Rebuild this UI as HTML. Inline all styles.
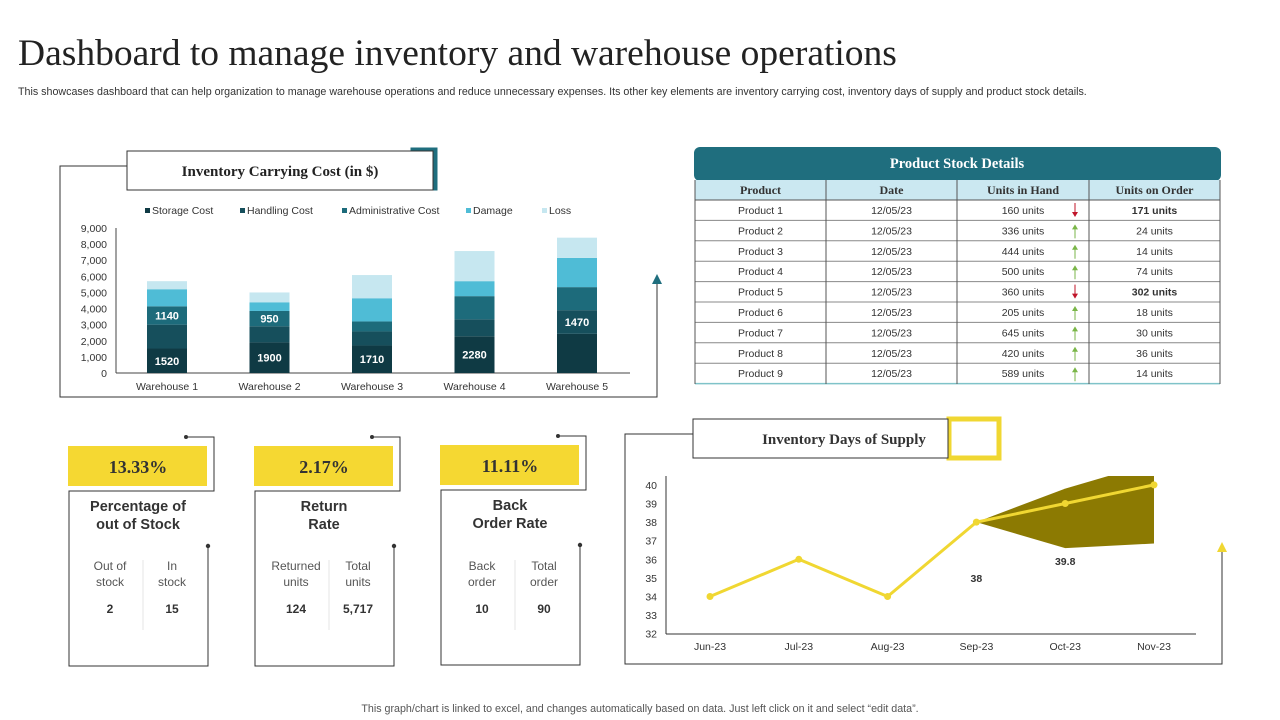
<!DOCTYPE html>
<html><head><meta charset="utf-8"><style>
body{margin:0;width:1280px;height:720px;background:#fff;overflow:hidden;font-family:"Liberation Sans",sans-serif}
svg{display:block}
</style></head><body>
<svg id="s" width="1280" height="720" xmlns="http://www.w3.org/2000/svg" font-family="Liberation Sans, sans-serif">
<defs><clipPath id="plotclip"><rect x="666" y="476" width="540" height="160"/></clipPath></defs>
<text x="18" y="65" font-family="Liberation Serif, serif" font-size="37.5" fill="#222">Dashboard to manage inventory and warehouse operations</text>
<text x="18" y="95" font-size="10.7" fill="#333">This showcases dashboard that can help organization to manage  warehouse operations and reduce unnecessary expenses. Its other key elements are inventory carrying cost, inventory days of supply and product stock details.</text>
<text x="640" y="712" text-anchor="middle" font-size="10.7" fill="#555">This graph/chart is linked to excel, and changes automatically based on data. Just left click on it and select “edit data”.</text>

<g>
<polyline points="127,166 60,166 60,397 657,397 657,284" fill="none" stroke="#333" stroke-width="1"/>
<polygon points="652,284 657,274 662,284" fill="#1f6e7e"/>
<rect x="413" y="150" width="22" height="38" fill="none" stroke="#1f6e7e" stroke-width="5"/>
<rect x="127" y="151" width="306" height="39" fill="#fff" stroke="#333"/>
<text x="280" y="176" text-anchor="middle" font-family="Liberation Serif, serif" font-weight="bold" font-size="15" fill="#222">Inventory Carrying  Cost (in $)</text>
<g id="bars"></g>
</g>

<g id="tbl"></g>

<g id="kpis"></g>

<g>
<polyline points="693,434 625,434 625,664 1222,664 1222,552" fill="none" stroke="#333"/>
<polygon points="1217,552 1222,542 1227,552" fill="#f0d732"/>
<rect x="949" y="419" width="50" height="39" fill="none" stroke="#f0d732" stroke-width="5"/>
<rect x="693" y="419" width="255" height="39" fill="#fff" stroke="#333"/>
<text x="844" y="444" text-anchor="middle" font-family="Liberation Serif, serif" font-weight="bold" font-size="15" fill="#333">Inventory  Days of Supply</text>
<g id="line"></g>
</g>
</svg>
<script>
const NS="http://www.w3.org/2000/svg";
function mk(p,t,a,txt){const e=document.createElementNS(NS,t);for(const k in a)e.setAttribute(k,a[k]);if(txt!=null)e.textContent=txt;p.appendChild(e);return e;}

// ---- stacked bar data ----
const warehouses=["Warehouse 1","Warehouse 2","Warehouse 3","Warehouse 4","Warehouse 5"];
const seriesNames=["Storage Cost","Handling Cost","Administrative Cost","Damage","Loss"];
const storage=[1520,1900,1710,2280,2430];
const handling=[1480,1000,870,1050,1470];
const admin=[1140,950,620,1440,1430];
const damage=[1060,540,1440,930,1810];
const loss=[500,610,1440,1870,1260];
const barTicks=[0,1000,2000,3000,4000,5000,6000,7000,8000,9000];
const barLabels=[[true,false,true,false,false],[true,false,true,false,false],[true,false,false,false,false],[true,false,false,false,false],[false,true,false,false,false]];
const colors=["#0f3a44","#164f5c","#1d6b7b","#4fbcd6","#c6e7f0"];
const bg=document.getElementById('bars');
const by=v=>373-v*(145/9000), bx=i=>167+i*102.5;
mk(bg,'line',{x1:116,y1:228,x2:116,y2:373,stroke:'#444'});
mk(bg,'line',{x1:116,y1:373,x2:630,y2:373,stroke:'#444'});
barTicks.forEach(t=>{const e=mk(bg,'text',{x:107,y:by(t)+4,'text-anchor':'end','font-size':10.5,fill:'#333'},t.toLocaleString('en-US'));

});
const ser=[storage,handling,admin,damage,loss];
warehouses.forEach((w,i)=>{let acc=0;ser.forEach((s,j)=>{const v=s[i];
const r=mk(bg,'rect',{x:bx(i)-20,y:by(acc+v),width:40,height:by(acc)-by(acc+v),fill:colors[j]});


if(barLabels[i][j]){const t=mk(bg,'text',{x:bx(i),y:(by(acc)+by(acc+v))/2+4,'text-anchor':'middle','font-size':11,'font-weight':'bold',fill:'#fff'},v);

}
acc+=v;});
const t=mk(bg,'text',{x:bx(i),y:390,'text-anchor':'middle','font-size':10.5,fill:'#333'},w);

});
const lx=[145,240,342,466,542];
seriesNames.forEach((n,j)=>{const g=mk(bg,'g',{});


mk(g,'rect',{x:lx[j],y:208,width:5,height:5,fill:colors[j]});mk(g,'text',{x:lx[j]+7,y:214,'font-size':10.5,fill:'#333'},n);});

// ---- table ----
const products=["Product 1","Product 2","Product 3","Product 4","Product 5","Product 6","Product 7","Product 8","Product 9"];
const unitsInHand=[160,336,444,500,360,205,645,420,589];
const unitsOnOrder=[171,24,14,74,302,18,30,36,14];
const trendUp=[false,true,true,true,false,true,true,true,true];
const tg=document.getElementById('tbl');
mk(tg,'rect',{x:694,y:147,width:527,height:34,rx:6,fill:'#1f6e7e'});
mk(tg,'text',{x:957,y:168,'text-anchor':'middle','font-family':'Liberation Serif, serif','font-weight':'bold','font-size':14.5,fill:'#fff'},'Product  Stock Details');
mk(tg,'rect',{x:695,y:180,width:525,height:20,fill:'#cbe8f1'});
const cx=[695,826,957,1089,1220];
["Product","Date","Units  in Hand","Units  on Order"].forEach((h,i)=>mk(tg,'text',{x:(cx[i]+cx[i+1])/2,y:194,'text-anchor':'middle','font-family':'Liberation Serif, serif','font-weight':'bold','font-size':12,fill:'#333'},h));
products.forEach((p,r)=>{const y=200+r*20.4;
const row=mk(tg,'g',{});


mk(row,'line',{x1:695,y1:y+20.4,x2:1220,y2:y+20.4,stroke:r==8?'#7fc3c9':'#888','stroke-width':r==8?1.5:1});
const vals=[p,"12/05/23",unitsInHand[r]+" units",unitsOnOrder[r]+" units"];
vals.forEach((v,i)=>mk(row,'text',{x:(cx[i]+cx[i+1])/2,y:y+14,'text-anchor':'middle','font-size':10.5,fill:'#333','font-weight':(i==3&&unitsOnOrder[r]>100)?'bold':'normal'},v));
const ax=1075,c=trendUp[r]?'#7ab648':'#c0152a';
if(trendUp[r]){mk(row,'line',{x1:ax,y1:y+5,x2:ax,y2:y+18,stroke:c});mk(row,'polygon',{points:`${ax-3},${y+9} ${ax},${y+4} ${ax+3},${y+9}`,fill:c});}
else{mk(row,'line',{x1:ax,y1:y+3,x2:ax,y2:y+16,stroke:c});mk(row,'polygon',{points:`${ax-3},${y+12} ${ax},${y+17} ${ax+3},${y+12}`,fill:c});}
});
cx.forEach(x=>mk(tg,'line',{x1:x,y1:180,x2:x,y2:384,stroke:'#555'}));
mk(tg,'line',{x1:695,y1:200,x2:1220,y2:200,stroke:'#555'});

// ---- KPI cards ----
const kpiValues=["13.33%","2.17%","11.11%"];
const kpiTitles=[["Percentage of","out of Stock"],["Return","Rate"],["Back","Order Rate"]];
const kpiSubA=[["Out of","stock"],["Returned","units"],["Back","order"]];
const kpiSubB=[["In","stock"],["Total","units"],["Total","order"]];
const kpiNumA=["2","124","10"];
const kpiNumB=["15","5,717","90"];
const kg=document.getElementById('kpis');
[68,254,440].forEach((x0,i)=>{const g=mk(kg,'g',{});


const dy=i==2?-1:0;
mk(g,'polyline',{points:`${x0+118},${437+dy} ${x0+146},${437+dy} ${x0+146},${491+dy} ${x0+1},${491+dy} ${x0+1},${666+dy} ${x0+140},${666+dy} ${x0+140},${546+dy}`,fill:'none',stroke:'#333'});
mk(g,'circle',{cx:x0+118,cy:437+dy,r:2,fill:'#333'});
mk(g,'circle',{cx:x0+140,cy:546+dy,r:2.2,fill:'#333'});
mk(g,'rect',{x:x0,y:446+dy,width:139,height:40,fill:'#f5d832'});
mk(g,'text',{x:x0+70,y:473+dy,'text-anchor':'middle','font-family':'Liberation Serif, serif','font-weight':'bold','font-size':18,fill:'#333'},kpiValues[i]);
kpiTitles[i].forEach((t,k)=>mk(g,'text',{x:x0+70,y:511+k*18+dy,'text-anchor':'middle','font-weight':'bold','font-size':14.5,fill:'#333'},t));
const ca=x0+42,cb=x0+104;
kpiSubA[i].forEach((t,k)=>mk(g,'text',{x:ca,y:570+k*16,'text-anchor':'middle','font-size':12,fill:'#555'},t));
kpiSubB[i].forEach((t,k)=>mk(g,'text',{x:cb,y:570+k*16,'text-anchor':'middle','font-size':12,fill:'#555'},t));
mk(g,'line',{x1:x0+75,y1:560,x2:x0+75,y2:630,stroke:'#e6e6e6'});
mk(g,'text',{x:ca,y:613,'text-anchor':'middle','font-size':12,'font-weight':'bold',fill:'#333'},kpiNumA[i]);
mk(g,'text',{x:cb,y:613,'text-anchor':'middle','font-size':12,'font-weight':'bold',fill:'#333'},kpiNumB[i]);
});

// ---- line chart ----
const months=["Jun-23","Jul-23","Aug-23","Sep-23","Oct-23","Nov-23"];
const daysSupply=[34,36,34,38,39,40];
const bandUpper=[null,null,null,38,39.8,41.2];
const bandLower=[null,null,null,38,36.6,36.85];
const lineTicks=[32,33,34,35,36,37,38,39,40];
const pointLabels=[null,null,null,"38","39.8",null];
const lg=document.getElementById('line');
const ly=v=>633.7-(v-32)*18.6, lx2=i=>710+i*88.8;
mk(lg,'line',{x1:666,y1:476,x2:666,y2:634,stroke:'#333'});
mk(lg,'line',{x1:666,y1:634,x2:1196,y2:634,stroke:'#333'});
lineTicks.forEach(t=>{const e=mk(lg,'text',{x:657,y:ly(t)+4,'text-anchor':'end','font-size':10.5,fill:'#333'},t);

});
months.forEach((m,i)=>{const e=mk(lg,'text',{x:lx2(i),y:650,'text-anchor':'middle','font-size':10.5,fill:'#333'},m);

});
let up=[],lo=[];
bandUpper.forEach((v,i)=>{if(v!=null){up.push(`${lx2(i)},${ly(v)}`);lo.unshift(`${lx2(i)},${ly(bandLower[i])}`);}});
const band=mk(lg,'polygon',{points:up.concat(lo).join(' '),fill:'#8c7a02','clip-path':'url(#plotclip)'});


const pl=mk(lg,'polyline',{points:daysSupply.map((v,i)=>`${lx2(i)},${ly(v)}`).join(' '),fill:'none',stroke:'#f0d732','stroke-width':3});


daysSupply.forEach((v,i)=>{const c=mk(lg,'circle',{cx:lx2(i),cy:ly(v),r:3.5,fill:'#f0d732'});


if(pointLabels[i]){const t=mk(lg,'text',{x:lx2(i),y:i==3?582:565,'text-anchor':'middle','font-size':10.5,'font-weight':'bold',fill:'#333'},pointLabels[i]);

}});
</script>
</body></html>
